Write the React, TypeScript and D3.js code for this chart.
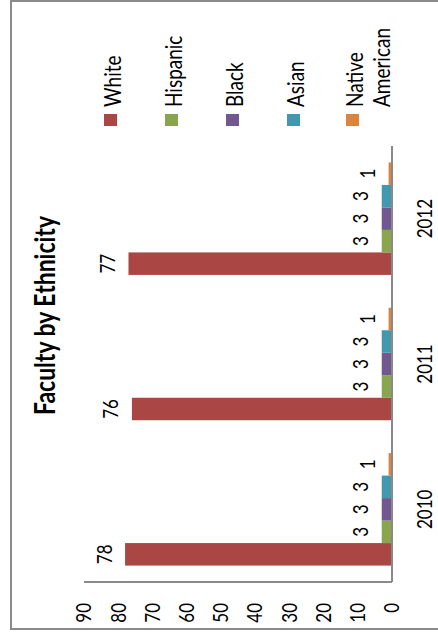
import React from 'react';
import * as d3 from 'd3';

// Faculty headcount by ethnicity, per year
const years = ['2010', '2011', '2012'];
const seriesNames = ['White', 'Hispanic', 'Black', 'Asian', 'Native American'];
const white = [78, 76, 77];
const hispanic = [3, 3, 3];
const black = [3, 3, 3];
const asian = [3, 3, 3];
const nativeAmerican = [1, 1, 1];
const valueTicks = [0, 10, 20, 30, 40, 50, 60, 70, 80, 90];
const seriesColors = ['#AA4643', '#89A54E', '#71588F', '#4198AF', '#DB843D'];

const W = 438;
const H = 636;
const FONT = "Lato, 'Open Sans', sans-serif";
const STRETCH = 1.2; // glyph-height stretch of the chart text

export default function App() {
  const seriesValues = [white, hispanic, black, asian, nativeAmerican];

  // The chart is drawn in a column-chart frame (u across, v down) that is
  // turned a quarter turn counter-clockwise onto the page.
  const catScale = d3.scaleBand<string>().domain(years).range([54, 490]).paddingInner(0).paddingOuter(0);
  const seriesScale = d3
    .scaleBand<string>()
    .domain(seriesNames)
    .range([0, catScale.bandwidth()])
    .paddingInner(0)
    .paddingOuter(0.73);
  const valueScale = d3.scaleLinear().domain([0, 90]).range([392, 84]);
  const axisColor = '#8a8a8a';

  const label = (
    key: string,
    u: number,
    v: number,
    text: string,
    opts: { anchor?: string; size?: number; weight?: string; dy?: string } = {}
  ) => (
    <g key={key} transform={`translate(${u},${v}) scale(1,${STRETCH})`}>
      <text
        textAnchor={opts.anchor ?? 'middle'}
        dy={opts.dy ?? '0'}
        fontFamily={FONT}
        fontSize={opts.size ?? 17}
        fontWeight={opts.weight ?? 'normal'}
        fill="#000"
      >
        {text}
      </text>
    </g>
  );

  const legendBaselines = [121, 182, 243, 304, 363];

  return (
    <svg
      width={W}
      height={H}
      style={{ position: 'absolute', left: 0, top: 0, background: '#fff' }}
    >
      <rect x={11} y={1} width={W} height={628} fill="#fff" stroke={axisColor} strokeWidth={2} />
      <g transform={`translate(0,${H}) rotate(-90)`}>
        {/* bars */}
        {years.map((yr, ci) =>
          seriesNames.map((name, si) => {
            const val = seriesValues[si][ci];
            const u0 = (catScale(yr) ?? 0) + (seriesScale(name) ?? 0);
            const vEnd = valueScale(val);
            return (
              <rect
                key={`${yr}-${name}`}
                x={u0}
                y={vEnd}
                width={seriesScale.bandwidth()}
                height={valueScale(0) - vEnd}
                fill={seriesColors[si]}
              />
            );
          })
        )}

        {/* value labels */}
        {years.map((yr, ci) =>
          seriesNames.map((name, si) => {
            const val = seriesValues[si][ci];
            const uc = (catScale(yr) ?? 0) + (seriesScale(name) ?? 0) + seriesScale.bandwidth() / 2;
            return label(`lbl-${yr}-${name}`, uc, valueScale(val) - 13.5, String(val));
          })
        )}

        {/* axes */}
        <line x1={54} x2={54} y1={valueScale(90)} y2={valueScale(0)} stroke={axisColor} strokeWidth={2} />
        <line x1={54} x2={490} y1={valueScale(0)} y2={valueScale(0)} stroke={axisColor} strokeWidth={2} />

        {valueTicks.map((t) => label(`tick-${t}`, 33, valueScale(t), String(t), { anchor: 'end', dy: '0.36em' }))}

        {years.map((yr) => label(`cat-${yr}`, (catScale(yr) ?? 0) + catScale.bandwidth() / 2, 432, yr))}

        {/* title */}
        {label('title', 320.5, 55, 'Faculty by Ethnicity', { size: 23, weight: 'bold' })}

        {/* legend */}
        {seriesNames.map((name, si) => {
          const base = legendBaselines[si];
          const parts = name === 'Native American' ? ['Native', 'American'] : [name];
          return (
            <g key={`leg-${name}`}>
              <rect x={510} y={base - 17} width={12} height={13} fill={seriesColors[si]} />
              {parts.map((p, pi) =>
                label(`leg-${name}-${pi}`, 529, base + pi * 27, p, { anchor: 'start', size: 19 })
              )}
            </g>
          );
        })}
      </g>
    </svg>
  );
}
